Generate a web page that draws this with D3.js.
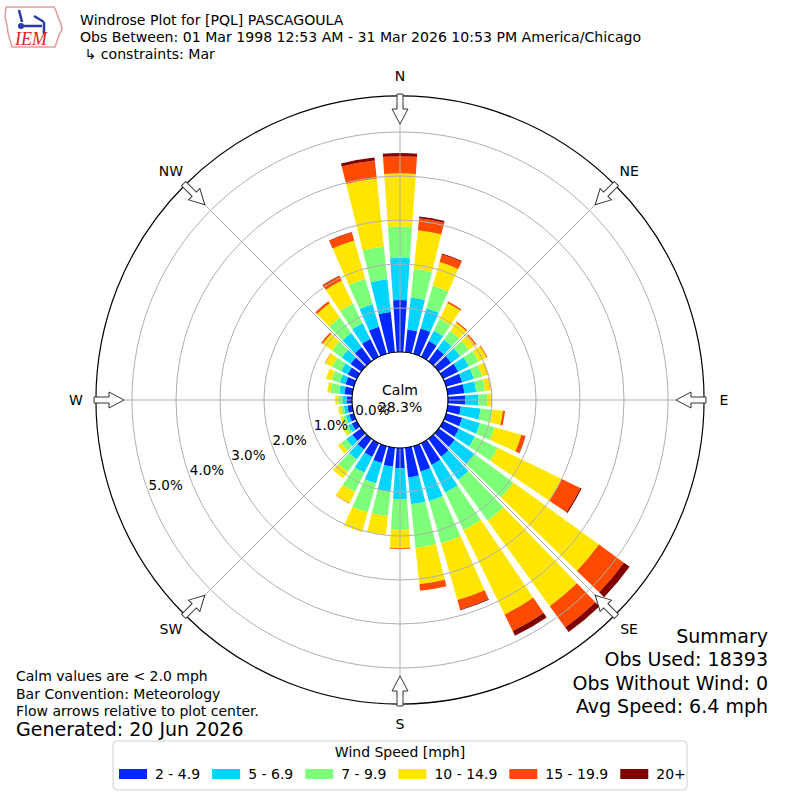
<!DOCTYPE html>
<html>
<head>
<meta charset="utf-8">
<script src="https://cdn.jsdelivr.net/npm/d3@7/dist/d3.min.js"></script>
<style>
  body { margin: 0; background: #fff; }
  svg { font-family: "DejaVu Sans", sans-serif; }
</style>
</head>
<body>
<svg id="chart" width="800" height="800"></svg>
<script>
// wind directions (deg, meteorological, bar centre)
const directions = [0, 10, 20, 30, 40, 50, 60, 70, 80, 90, 100, 110, 120, 130, 140, 150, 160, 170,
  180, 190, 200, 210, 220, 230, 240, 250, 260, 270, 280, 290, 300, 310, 320, 330, 340, 350]

// frequency (%) per speed bin, one value per direction
const s2to5 = [1.18, 0.52, 0.60, 0.40, 0.35, 0.35, 0.38, 0.38, 0.38, 0.39, 0.30, 0.38, 0.40, 0.45, 0.50, 0.55, 0.60, 0.68,
  0.46, 0.43, 0.40, 0.35, 0.30, 0.25, 0.13, 0.11, 0.11, 0.12, 0.18, 0.20, 0.23, 0.30, 0.39, 0.45, 0.64, 0.92]
const s5to7 = [0.96, 0.73, 0.48, 0.26, 0.25, 0.25, 0.27, 0.27, 0.27, 0.30, 0.45, 0.42, 0.40, 0.55, 0.65, 0.70, 0.70, 0.61,
  0.70, 0.58, 0.48, 0.40, 0.28, 0.17, 0.09, 0.08, 0.08, 0.10, 0.12, 0.13, 0.17, 0.25, 0.40, 0.40, 0.53, 0.75]
const s7to10 = [0.71, 0.66, 0.53, 0.30, 0.25, 0.25, 0.25, 0.20, 0.20, 0.20, 0.27, 0.35, 0.58, 1.10, 1.15, 0.95, 1.00, 1.00,
  0.70, 0.55, 0.69, 0.48, 0.35, 0.15, 0.08, 0.07, 0.07, 0.09, 0.20, 0.20, 0.23, 0.27, 0.44, 0.50, 0.60, 0.74]
const s10to15 = [1.21, 0.88, 0.56, 0.40, 0.23, 0.18, 0.20, 0.13, 0.12, 0.10, 0.24, 0.63, 1.62, 2.40, 2.40, 2.13, 1.34, 0.83,
  0.42, 0.43, 0.46, 0.29, 0.18, 0.09, 0.06, 0.06, 0.06, 0.07, 0.07, 0.13, 0.17, 0.26, 0.40, 0.58, 0.91, 1.56]
const s15to20 = [0.39, 0.27, 0.18, 0.04, 0.03, 0.03, 0.02, 0.01, 0.01, 0.01, 0.05, 0.09, 0.47, 0.70, 0.60, 0.42, 0.22, 0.15,
  0.02, 0.00, 0.00, 0.01, 0.00, 0.00, 0.00, 0.00, 0.00, 0.00, 0.00, 0.00, 0.01, 0.04, 0.05, 0.12, 0.19, 0.41]
const s20up = [0.07, 0.04, 0.02, 0.00, 0.00, 0.00, 0.00, 0.00, 0.00, 0.00, 0.00, 0.01, 0.03, 0.16, 0.13, 0.12, 0.02, 0.00,
  0.00, 0.00, 0.00, 0.00, 0.00, 0.00, 0.00, 0.00, 0.00, 0.00, 0.00, 0.00, 0.00, 0.00, 0.00, 0.01, 0.01, 0.07]

const speedBins = ['2 - 4.9', '5 - 6.9', '7 - 9.9', '10 - 14.9', '15 - 19.9', '20+']
const binColors = ['#0028ff', '#00d4ff', '#7dff7a', '#ffe600', '#ff4a00', '#7f0000']
const ringTicks = [0, 1, 2, 3, 4, 5]
const compassNames = ['N', 'NE', 'E', 'SE', 'S', 'SW', 'W', 'NW']
const compassAngles = [0, 45, 90, 135, 180, 225, 270, 315]

const calmText = ['Calm', '28.3%']
const titleLines = [
  'Windrose Plot for [PQL] PASCAGOULA',
  'Obs Between: 01 Mar 1998 12:53 AM - 31 Mar 2026 10:53 PM America/Chicago',
  ' \u21b3 constraints: Mar'
]
const summaryLines = ['Summary', 'Obs Used: 18393', 'Obs Without Wind: 0', 'Avg Speed: 6.4 mph']
const noteLines = ['Calm values are < 2.0 mph', 'Bar Convention: Meteorology', 'Flow arrows relative to plot center.']
const generated = 'Generated: 20 Jun 2026'

const cx = 400
const cy = 400
const maxPct = 5.82

const svg = d3.select('#chart')

// radius scale: 0% sits on the calm circle
const r = d3.scaleLinear().domain([0, 1]).range([48, 92])
const rad = d => d * Math.PI / 180
const pt = (deg, radius) => [cx + radius * Math.sin(rad(deg)), cy - radius * Math.cos(rad(deg))]

// stacked data
const series = [s2to5, s5to7, s7to10, s10to15, s15to20, s20up]
const rows = directions.map((dir, i) => {
  const o = { dir }
  speedBins.forEach((b, k) => { o[b] = series[k][i] })
  return o
})
const stacked = d3.stack().keys(speedBins)(rows)

const plot = svg.append('g').attr('transform', `translate(${cx},${cy})`)

const arc = d3.arc()
  .innerRadius(d => r(d[0]))
  .outerRadius(d => r(d[1]))
  .startAngle(d => rad(d.data.dir - 4))
  .endAngle(d => rad(d.data.dir + 4))

plot.selectAll('.bin')
  .data(stacked)
  .enter().append('g')
  .attr('class', 'bin')
  .attr('fill', (d, i) => binColors[i])
  .selectAll('path')
  .data(d => d.filter(s => s[1] - s[0] > 0))
  .enter().append('path')
  .attr('d', arc)

// grid on top of bars
plot.selectAll('.ring')
  .data(ringTicks.slice(1))
  .enter().append('circle')
  .attr('r', d => r(d))
  .attr('fill', 'none')
  .attr('stroke', '#b0b0b0')
  .attr('stroke-width', 1)

plot.selectAll('.spoke')
  .data(compassAngles)
  .enter().append('line')
  .attr('x1', d => r(0) * Math.sin(rad(d)))
  .attr('y1', d => -r(0) * Math.cos(rad(d)))
  .attr('x2', d => r(maxPct) * Math.sin(rad(d)))
  .attr('y2', d => -r(maxPct) * Math.cos(rad(d)))
  .attr('stroke', '#b0b0b0')
  .attr('stroke-width', 1)

// outer frame and calm circle
plot.append('circle')
  .attr('r', r(maxPct))
  .attr('fill', 'none')
  .attr('stroke', '#000')
  .attr('stroke-width', 1.2)

plot.append('circle')
  .attr('r', r(0))
  .attr('fill', '#fff')
  .attr('stroke', '#000')
  .attr('stroke-width', 1.2)

// flow arrows pointing to centre
const arrowShape = [[-3, -306], [3, -306], [3, -291], [8, -291], [0, -276], [-8, -291], [-3, -291]]
plot.selectAll('.arrow')
  .data(compassAngles)
  .enter().append('path')
  .attr('d', 'M' + arrowShape.join('L') + 'Z')
  .attr('transform', d => `rotate(${d})`)
  .attr('fill', '#fff')
  .attr('stroke', '#333')
  .attr('stroke-width', 1)

// compass labels
svg.selectAll('.compass')
  .data(compassAngles)
  .enter().append('text')
  .attr('x', d => pt(d, 324)[0])
  .attr('y', d => pt(d, 324)[1])
  .attr('text-anchor', 'middle')
  .attr('dominant-baseline', 'central')
  .style('font-size', '14px')
  .text((d, i) => compassNames[i])

// ring labels
svg.selectAll('.rlabel')
  .data(ringTicks)
  .enter().append('text')
  .attr('x', d => pt(250, r(d) - 18.6)[0])
  .attr('y', d => pt(250, r(d) - 18.6)[1])
  .attr('text-anchor', 'middle')
  .attr('dominant-baseline', 'central')
  .style('font-size', '13.5px')
  .text(d => d.toFixed(1) + '%')

// calm
svg.selectAll('.calm')
  .data(calmText)
  .enter().append('text')
  .attr('x', cx)
  .attr('y', (d, i) => 390 + i * 17)
  .attr('text-anchor', 'middle')
  .attr('dominant-baseline', 'central')
  .style('font-size', '14px')
  .text(d => d)

// titles
svg.selectAll('.title')
  .data(titleLines)
  .enter().append('text')
  .attr('x', 80)
  .attr('y', (d, i) => 20 + i * 17)
  .attr('dominant-baseline', 'central')
  .attr('xml:space', 'preserve')
  .style('white-space', 'pre')
  .style('font-size', '14.1px')
  .text(d => d)

// summary
svg.selectAll('.summary')
  .data(summaryLines)
  .enter().append('text')
  .attr('x', 768)
  .attr('y', (d, i) => 636 + i * 23.3)
  .attr('text-anchor', 'end')
  .attr('dominant-baseline', 'central')
  .style('font-size', '19px')
  .text(d => d)

// notes
svg.selectAll('.note')
  .data(noteLines)
  .enter().append('text')
  .attr('x', 16)
  .attr('y', (d, i) => 676 + i * 17.5)
  .attr('dominant-baseline', 'central')
  .style('font-size', '14px')
  .text(d => d)

svg.append('text')
  .attr('x', 16)
  .attr('y', 729)
  .attr('dominant-baseline', 'central')
  .style('font-size', '19px')
  .text(generated)

// legend
const legend = svg.append('g')
legend.append('rect')
  .attr('x', 113).attr('y', 741)
  .attr('width', 574).attr('height', 49)
  .attr('rx', 4)
  .attr('fill', '#fff')
  .attr('stroke', '#d0d0d0')
legend.append('text')
  .attr('x', 400).attr('y', 752)
  .attr('text-anchor', 'middle')
  .attr('dominant-baseline', 'central')
  .style('font-size', '14px')
  .text('Wind Speed [mph]')

let lx = 119
speedBins.forEach((b, i) => {
  legend.append('rect')
    .attr('x', lx).attr('y', 769)
    .attr('width', 28).attr('height', 10)
    .attr('fill', binColors[i])
  const t = legend.append('text')
    .attr('x', lx + 36).attr('y', 774)
    .attr('dominant-baseline', 'central')
    .style('font-size', '14px')
    .text(b)
  lx += 36 + t.node().getComputedTextLength() + 12
})

// IEM logo (simplified)
const logo = svg.append('g')
logo.append('path')
  .attr('d', 'M6,7 L54,7 L56,11 L58,17 L61,24 L62,30 L59,35 L57,41 L55,47 L12,47 L10,40 L8,33 L7,25 L5,17 Z')
  .attr('fill', 'none')
  .attr('stroke', '#e79a9a')
  .attr('stroke-width', 1.5)
logo.append('path')
  .attr('d', 'M19,10 L22,22 M20,26 L42,26 M34,16 L44,22 M44,22 L44,34')
  .attr('fill', 'none')
  .attr('stroke', '#2a3aa8')
  .attr('stroke-width', 2.5)
logo.append('circle').attr('cx', 21).attr('cy', 26).attr('r', 3).attr('fill', '#2a3aa8')
logo.append('text')
  .attr('x', 15).attr('y', 45)
  .style('font-family', '"Liberation Serif", serif')
  .style('font-style', 'italic')
  .style('font-size', '18px')
  .attr('fill', '#d22')
  .text('IEM')
</script>
</body>
</html>
